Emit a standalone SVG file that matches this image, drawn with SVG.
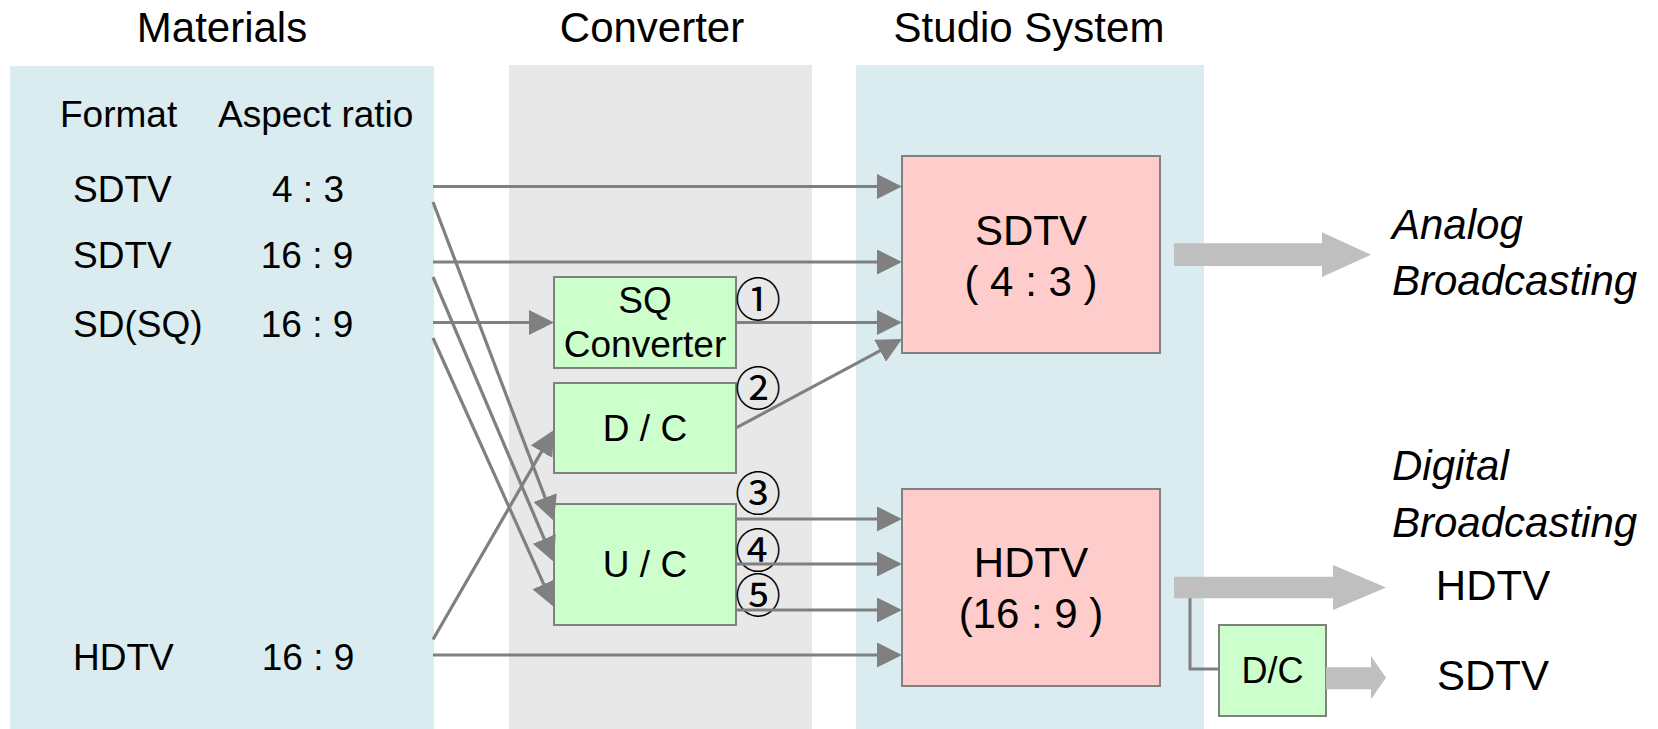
<svg xmlns="http://www.w3.org/2000/svg" width="1658" height="729" viewBox="0 0 1658 729">
  <style>
    text { font-family: "Liberation Sans", Arial, sans-serif; fill: #000; }
    .title { font-size: 42px; text-anchor: middle; }
    .cell { font-size: 37px; }
    .mid { text-anchor: middle; }
    .big { font-size: 42px; text-anchor: middle; }
    .conv { font-size: 37px; text-anchor: middle; }
    .out { font-size: 42px; font-style: italic; }
    .num { font-family: "Noto Sans CJK JP", "DejaVu Sans", sans-serif; font-size: 46px; text-anchor: middle; }
    .conn { stroke: #808080; stroke-width: 3.2; fill: none; marker-end: url(#arrow); }
    .boxg { fill: #CCFFCC; stroke: #808080; stroke-width: 2; }
    .boxp { fill: #FFCCCC; stroke: #808080; stroke-width: 2; }
    .block { fill: #BFBFBF; }
  </style>
  <defs>
    <marker id="arrow" markerUnits="userSpaceOnUse" markerWidth="25" markerHeight="25" refX="22" refY="12.5" orient="auto">
      <path d="M0,0 L25,12.5 L0,25 z" fill="#808080"/>
    </marker>
  </defs>

  <rect width="1658" height="729" fill="#FFFFFF"/>

  <!-- column backgrounds -->
  <g id="panels">
    <rect x="10" y="66" width="424" height="663" fill="#DAECEF"/>
    <rect x="509" y="65" width="303" height="664" fill="#E8E8E8"/>
    <rect x="856" y="65" width="348" height="664" fill="#DAECEF"/>
  </g>

  <!-- column headings -->
  <g id="headings">
    <text class="title" x="222" y="42">Materials</text>
    <text class="title" x="652" y="42">Converter</text>
    <text class="title" x="1029" y="42">Studio System</text>
  </g>

  <!-- source material table -->
  <g id="materials">
    <text class="cell" x="60" y="127">Format</text>
    <text class="cell" x="218" y="127">Aspect ratio</text>
    <text class="cell" x="73" y="202">SDTV</text>
    <text class="cell mid" x="308" y="202">4 : 3</text>
    <text class="cell" x="73" y="268">SDTV</text>
    <text class="cell mid" x="307" y="268">16 : 9</text>
    <text class="cell" x="73" y="337">SD(SQ)</text>
    <text class="cell mid" x="307" y="337">16 : 9</text>
    <text class="cell" x="73" y="670">HDTV</text>
    <text class="cell mid" x="308" y="670">16 : 9</text>
  </g>

  <!-- converters -->
  <g id="sq-converter">
    <rect class="boxg" x="554" y="277" width="182" height="91"/>
    <text class="conv" x="645" y="313">SQ</text>
    <text class="conv" x="645" y="357">Converter</text>
  </g>
  <g id="down-converter">
    <rect class="boxg" x="554" y="383" width="182" height="90"/>
    <text class="conv" x="645" y="441">D / C</text>
  </g>
  <g id="up-converter">
    <rect class="boxg" x="554" y="504" width="182" height="121"/>
    <text class="conv" x="645" y="577">U / C</text>
  </g>

  <!-- studio systems -->
  <g id="studio-sdtv">
    <rect class="boxp" x="902" y="156" width="258" height="197"/>
    <text class="big" x="1031" y="245">SDTV</text>
    <text class="big" x="1031" y="296">( 4 : 3 )</text>
  </g>
  <g id="studio-hdtv">
    <rect class="boxp" x="902" y="489" width="258" height="197"/>
    <text class="big" x="1031" y="577">HDTV</text>
    <text class="big" x="1031" y="628">(16 : 9 )</text>
  </g>

  <!-- path numbers -->
  <g id="path-numbers">
    <text class="num" x="758" y="316">①</text>
    <text class="num" x="758" y="405">②</text>
    <text class="num" x="758" y="510">③</text>
    <text class="num" x="758" y="567">④</text>
    <text class="num" x="758" y="612">⑤</text>
  </g>

  <!-- signal connectors -->
  <g id="connectors">
    <line class="conn" x1="433" y1="186.5" x2="899" y2="186.5"/>
    <line class="conn" x1="433" y1="262" x2="899" y2="262"/>
    <line class="conn" x1="433" y1="322.5" x2="551" y2="322.5"/>
    <line class="conn" x1="736" y1="322.5" x2="899" y2="322.5"/>
    <line class="conn" x1="736.5" y1="427.7" x2="899.4" y2="340.4"/>
    <line class="conn" x1="433" y1="202" x2="552.9" y2="518.2"/>
    <line class="conn" x1="433" y1="277" x2="552.8" y2="559.2"/>
    <line class="conn" x1="433" y1="338" x2="552.8" y2="604.3"/>
    <line class="conn" x1="433" y1="639.5" x2="552.5" y2="432.6"/>
    <line class="conn" x1="736" y1="519" x2="899" y2="519"/>
    <line class="conn" x1="736" y1="564" x2="899" y2="564"/>
    <line class="conn" x1="736" y1="610" x2="899" y2="610"/>
    <line class="conn" x1="433" y1="655" x2="899" y2="655"/>
    <polyline points="1190,597 1190,669 1219,669" stroke="#808080" stroke-width="3" fill="none"/>
  </g>

  <!-- broadcast outputs -->
  <g id="analog-output">
    <polygon class="block" points="1174,243.3 1322,243.3 1322,232.3 1371,254.7 1322,277 1322,266 1174,266"/>
    <text class="out" x="1392" y="239">Analog</text>
    <text class="out" x="1392" y="295">Broadcasting</text>
  </g>
  <g id="digital-output">
    <polygon class="block" points="1174,576.7 1333,576.7 1333,565 1386,587.5 1333,610 1333,598.3 1174,598.3"/>
    <text class="out" x="1392" y="480">Digital</text>
    <text class="out" x="1392" y="537">Broadcasting</text>
    <text class="big" x="1493" y="600">HDTV</text>
  </g>
  <g id="output-dc">
    <rect class="boxg" x="1219" y="625" width="107" height="91"/>
    <text x="1272.5" y="683" font-size="36" text-anchor="middle">D/C</text>
    <polygon class="block" points="1326,667.3 1371,667.3 1371,656 1386,677.7 1371,699.3 1371,689.3 1326,689.3"/>
    <text class="big" x="1493" y="690">SDTV</text>
  </g>
</svg>
